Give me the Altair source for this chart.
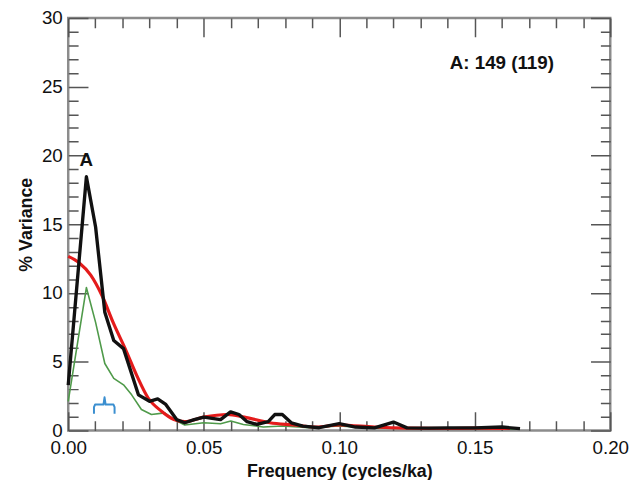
import altair as alt
import pandas as pd

# ---- data ----
black_f = [0.0, 0.0067, 0.0101, 0.0135, 0.0168, 0.0204, 0.0259, 0.030, 0.033, 0.036, 0.040, 0.043,
           0.0465, 0.050, 0.0562, 0.0599, 0.063, 0.066, 0.0696, 0.0738, 0.0762, 0.079, 0.0823,
           0.0866, 0.0926, 0.100, 0.106, 0.113, 0.120, 0.125, 0.133, 0.140, 0.150, 0.160, 0.1667]
black_v = [3.3, 18.45, 14.8, 8.6, 6.55, 5.96, 2.6, 2.13, 2.3, 1.9, 0.8, 0.57,
           0.8, 0.98, 0.8, 1.36, 1.17, 0.65, 0.45, 0.65, 1.17, 1.17, 0.57,
           0.33, 0.21, 0.5, 0.26, 0.2, 0.62, 0.2, 0.18, 0.2, 0.2, 0.26, 0.14]

red_f = [0.0, 0.004, 0.0083, 0.0125, 0.0168, 0.021, 0.0253, 0.0295, 0.0344, 0.039, 0.043, 0.050,
         0.0587, 0.065, 0.0744, 0.083, 0.0914, 0.100, 0.113, 0.125, 0.140, 0.150, 0.163]
red_v = [12.66, 12.2, 11.3, 9.8, 7.75, 5.96, 4.0, 2.37, 1.41, 0.81, 0.65, 0.98,
         1.17, 0.98, 0.57, 0.41, 0.26, 0.41, 0.26, 0.18, 0.15, 0.18, 0.15]

green_f = [0.0, 0.0067, 0.0101, 0.0135, 0.0168, 0.0204, 0.0234, 0.027, 0.0307, 0.0356, 0.039,
           0.043, 0.050, 0.0562, 0.060, 0.0646, 0.072, 0.079, 0.089, 0.100, 0.113, 0.125,
           0.140, 0.155, 0.1667]
green_v = [2.13, 10.4, 7.87, 4.88, 3.8, 3.33, 2.6, 1.53, 1.17, 1.29, 0.81,
           0.41, 0.57, 0.5, 0.7, 0.45, 0.26, 0.33, 0.21, 0.33, 0.17, 0.15,
           0.12, 0.12, 0.12]

bracket_f = [0.0095, 0.0095, 0.0099, 0.0130, 0.0134, 0.0138, 0.0167, 0.0171, 0.0171]
bracket_v = [1.22, 1.70, 1.89, 1.89, 2.42, 1.89, 1.89, 1.70, 1.22]

peak_label = ["A"]
peak_f = [0.0067]
peak_v = [19.7]

note_label = ["A: 149 (119)"]
note_f = [0.160]
note_v = [26.7]

x_ticks = [i / 100 for i in range(21)]
y_ticks = list(range(31))

W, H = 549, 418

# ---- shared scales / axes ----
xaxis = alt.Axis(
    values=x_ticks, format=".2f",
    labelExpr="abs(round(datum.value*100)) % 5 == 0 ? datum.label : ''",
    labelOverlap=False, labelFlush=False,
    labelFont="Liberation Sans", labelFontSize=19, labelColor="#111",
    labelPadding=8, ticks=False, domain=False,
    grid=True, gridColor="#555", gridWidth=1.5, gridOpacity=1,
    gridDash={"condition": {"test": "abs(round(datum.value*100)) % 5 == 0",
                            "value": [19, H - 38, 19, 0]},
              "value": [10, H - 20, 10, 0]},
    title="Frequency (cycles/ka)", titleFont="Liberation Sans", titleFontSize=18,
    titleFontWeight="bold", titleColor="#111", titlePadding=5,
)
yaxis = alt.Axis(
    values=y_ticks,
    labelExpr="datum.value % 5 == 0 ? datum.label : ''",
    labelOverlap=False, labelFlush=False,
    labelFont="Liberation Sans", labelFontSize=19, labelColor="#111",
    labelPadding=6, ticks=False, domain=False,
    grid=True, gridColor="#555", gridWidth=1.5, gridOpacity=1,
    gridDash={"condition": {"test": "datum.value % 5 == 0",
                            "value": [20, W - 40, 20, 0]},
              "value": [10, W - 20, 10, 0]},
    title="% Variance", titleFont="Liberation Sans", titleFontSize=18,
    titleFontWeight="bold", titleColor="#111", titlePadding=6,
)
xs = alt.Scale(domain=[0, 0.2], nice=False, zero=False)
ys = alt.Scale(domain=[0, 30], nice=False, zero=False)


def X():
    return alt.X("f:Q", scale=xs, axis=xaxis)


def Y():
    return alt.Y("v:Q", scale=ys, axis=yaxis)


def line(fs, vs, color, width, interp="linear"):
    df = pd.DataFrame({"f": fs, "v": vs})
    return alt.Chart(df).mark_line(color=color, strokeWidth=width, interpolate=interp,
                                   strokeJoin="round").encode(x=X(), y=Y())


green = line(green_f, green_v, "#4f9a4a", 1.6)
red = line(red_f, red_v, "#e41b1b", 3.2, "monotone")
black = line(black_f, black_v, "#111111", 3.4)
bracket = line(bracket_f, bracket_v, "#3b8fd0", 2.0)

peak = alt.Chart(pd.DataFrame({"f": peak_f, "v": peak_v, "t": peak_label})).mark_text(
    font="Liberation Sans", fontSize=19, fontWeight="bold", color="#111", baseline="middle"
).encode(x=X(), y=Y(), text="t:N")

note = alt.Chart(pd.DataFrame({"f": note_f, "v": note_v, "t": note_label})).mark_text(
    font="Liberation Sans", fontSize=19, fontWeight="bold", color="#111", baseline="middle"
).encode(x=X(), y=Y(), text="t:N")

chart = alt.layer(green, red, black, bracket, peak, note).properties(
    width=W, height=H,
    autosize=alt.AutoSizeParams(type="none"),
    padding={"left": 61, "top": 7, "right": 21, "bottom": 47},
    background="white",
).configure_view(stroke="#8c8c8c", strokeWidth=2.5)

chart.save("out.html", embed_options={"renderer": "svg", "actions": False})
